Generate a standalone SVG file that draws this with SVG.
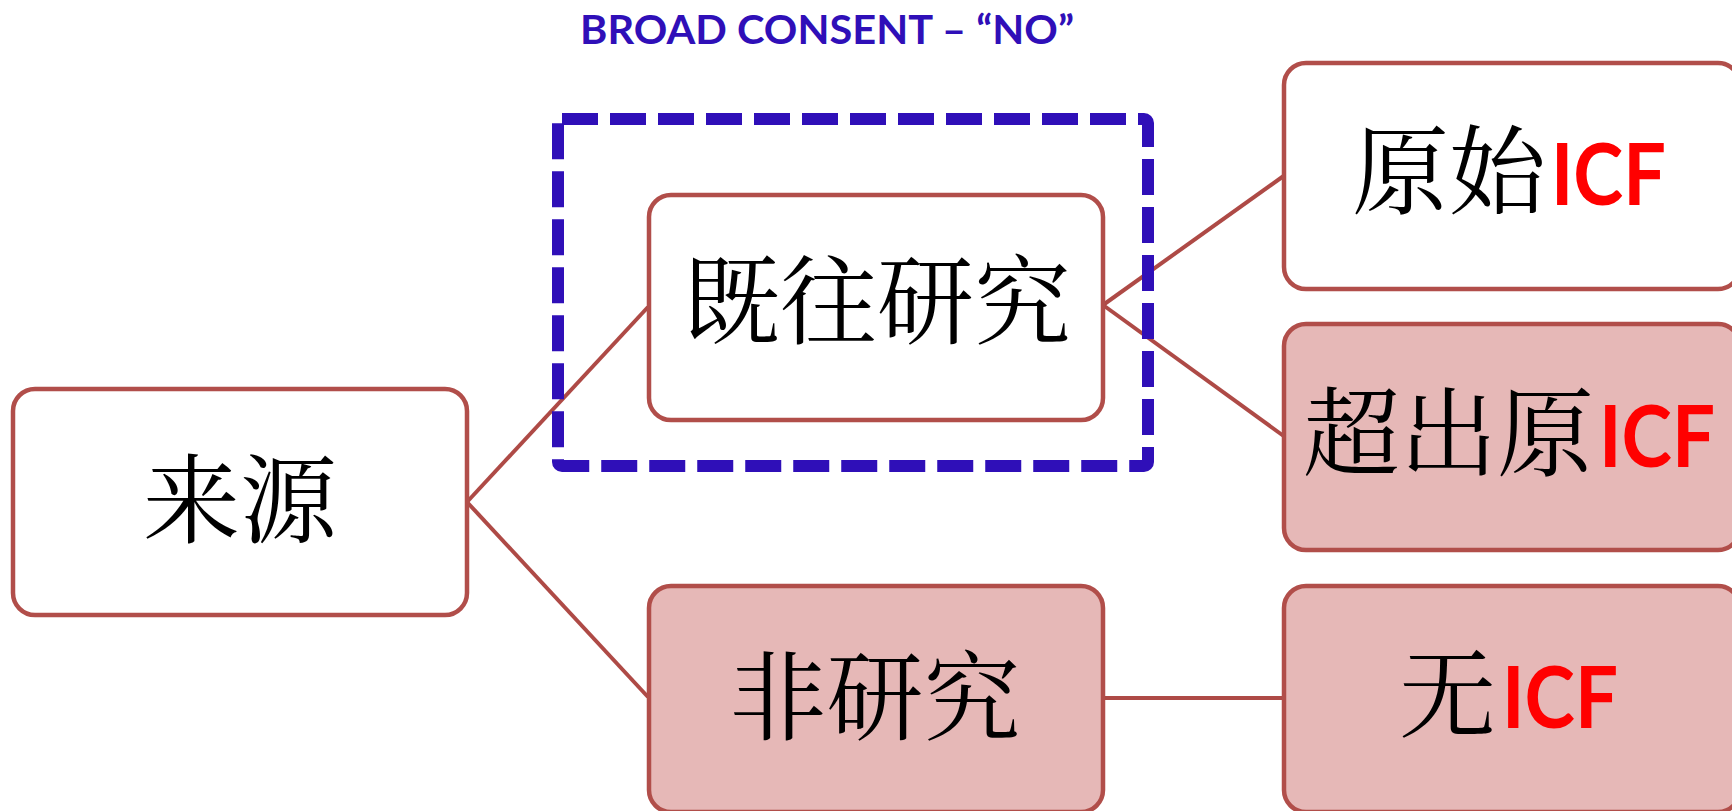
<svg xmlns="http://www.w3.org/2000/svg" width="1732" height="811" viewBox="0 0 1732 811">
<style>
.box{stroke:#B14E4A;stroke-width:4.5}
.w{fill:#FFFFFF}
.p{fill:#E6B8B7}
.cjk{font-family:"Noto Serif CJK SC","Noto Sans CJK SC",serif;font-size:97px;fill:#000000}
.icf{font-family:"Lato","Open Sans",sans-serif;font-weight:700;font-size:86px;fill:#FF0000}
.conn{stroke:#AE4A46;stroke-width:4;fill:none}
</style>
<rect width="1732" height="811" fill="#FFFFFF"/>
<text x="580" y="44" font-family="Lato, 'Open Sans', sans-serif" font-weight="700" font-size="41" fill="#2F0FB8" textLength="494" lengthAdjust="spacingAndGlyphs">BROAD CONSENT – “NO”</text>
<g id="connectors">
<line class="conn" x1="467" y1="502" x2="648" y2="307"/>
<line class="conn" x1="467" y1="502" x2="648" y2="697"/>
<line class="conn" x1="1103" y1="305" x2="1285" y2="175"/>
<line class="conn" x1="1103" y1="305" x2="1285" y2="437"/>
<line class="conn" x1="1103" y1="698" x2="1285" y2="698"/>
</g>
<g id="n-laiyuan">
<rect class="box w" x="13" y="389" width="454" height="226" rx="22"/>
<text class="cjk" x="240" y="535" text-anchor="middle">来源</text>
</g>
<g id="n-jiwang">
<rect class="box w" x="649" y="195" width="454" height="225" rx="22"/>
<text class="cjk" x="877" y="336" text-anchor="middle">既往研究</text>
</g>
<g id="n-feiyanjiu">
<rect class="box p" x="649" y="586" width="454" height="226" rx="22"/>
<text class="cjk" x="875" y="732" text-anchor="middle">非研究</text>
</g>
<g id="n-yuanshi">
<rect class="box w" x="1284" y="63" width="456" height="226" rx="22"/>
<text class="cjk" x="1546" y="206" text-anchor="end">原始</text>
<text class="icf" x="1551" y="205" textLength="115" lengthAdjust="spacingAndGlyphs">ICF</text>
</g>
<g id="n-chaochu">
<rect class="box p" x="1284" y="324" width="456" height="226" rx="22"/>
<text class="cjk" x="1594" y="468" text-anchor="end">超出原</text>
<text class="icf" x="1599" y="467" textLength="116" lengthAdjust="spacingAndGlyphs">ICF</text>
</g>
<g id="n-wu">
<rect class="box p" x="1284" y="586" width="456" height="226" rx="22"/>
<text class="cjk" x="1496" y="729" text-anchor="end">无</text>
<text class="icf" x="1502" y="728" textLength="116" lengthAdjust="spacingAndGlyphs">ICF</text>
</g>
<g id="broad-consent-frame">
<rect x="558" y="119" width="590" height="347" rx="4" fill="none" stroke="#2F0FB8" stroke-width="12" stroke-dasharray="36 12"/>
</g>
</svg>
